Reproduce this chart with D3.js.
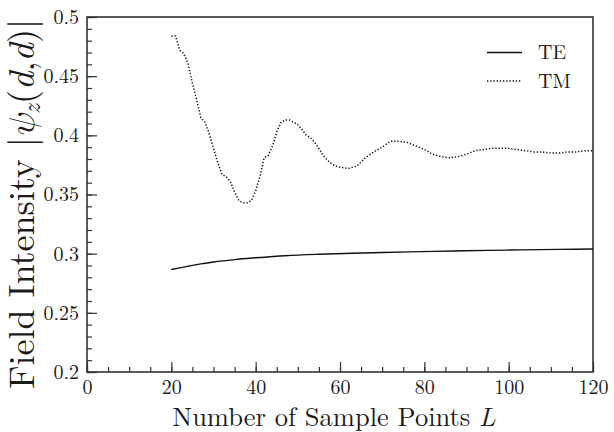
<!DOCTYPE html>
<html>
<head>
<meta charset="utf-8">
<script src="https://cdn.jsdelivr.net/npm/d3@7"></script>
<style>
  body { margin: 0; background: #fff; }
</style>
</head>
<body>
<svg id="chart" width="614" height="432"></svg>
<script>
// values
const teL = [20, 22, 24, 27, 30, 35, 40, 47, 55, 63, 70, 79, 87, 95, 103, 112, 120];
const teVal = [0.2866, 0.2880, 0.2895, 0.2914, 0.2930, 0.2950, 0.2965, 0.2983, 0.2995, 0.3003,
               0.3010, 0.3017, 0.3023, 0.3028, 0.3032, 0.3036, 0.3039];

const tmL = [20, 21, 22, 23, 24, 25, 26, 27, 28, 29, 30, 31, 32, 33, 34, 35, 36, 37, 38, 39,
             40, 41, 42, 43, 44, 45, 46, 47, 48, 49, 50, 51, 52, 53, 54, 55, 56, 57, 58, 59,
             60, 62, 64, 66, 68, 70, 72, 74, 76, 78, 80, 82, 84, 86, 88, 90, 92, 94, 96, 98,
             100, 102, 104, 106, 108, 110, 112, 114, 116, 118, 120];
const tmVal = [0.484, 0.484, 0.472, 0.469, 0.460, 0.444, 0.430, 0.415, 0.411, 0.401,
               0.389, 0.377, 0.367, 0.365, 0.361, 0.352, 0.345, 0.343, 0.343, 0.345,
               0.353, 0.365, 0.381, 0.383, 0.391, 0.403, 0.411, 0.413, 0.413, 0.411,
               0.409, 0.405, 0.400, 0.398, 0.394, 0.389, 0.383, 0.379, 0.376, 0.374,
               0.373, 0.372, 0.374, 0.381, 0.386, 0.390, 0.395, 0.395, 0.394, 0.391,
               0.388, 0.384, 0.382, 0.381, 0.382, 0.384, 0.387, 0.388, 0.389, 0.389,
               0.389, 0.388, 0.387, 0.386, 0.386, 0.385, 0.385, 0.386, 0.386, 0.387, 0.387];

const xTicks = [0, 20, 40, 60, 80, 100, 120];
const yTicks = [0.2, 0.25, 0.3, 0.35, 0.4, 0.45, 0.5];
const seriesNames = ["TE", "TM"];

const plotLeft = 87, plotRight = 593, plotTop = 17, plotBottom = 372;
const FONT = "'Latin Modern Roman', 'Liberation Serif', serif";
const MATH = "'Latin Modern Math', 'Latin Modern Roman', 'Liberation Serif', serif";
const INK = "#1a1a1a";

const svg = d3.select("#chart");

const x = d3.scaleLinear().domain([0, 120]).range([plotLeft, plotRight]);
const y = d3.scaleLinear().domain([0.2, 0.5]).range([plotBottom, plotTop]);

// minor ticks
svg.append("g")
    .attr("transform", "translate(0," + plotBottom + ")")
    .call(d3.axisBottom(x).tickValues(d3.range(0, 121, 5)).tickSize(-5).tickFormat(""))
    .call(g => g.select(".domain").remove());

svg.append("g")
    .attr("transform", "translate(" + plotLeft + ",0)")
    .call(d3.axisLeft(y).tickValues(d3.range(20, 51).map(d => d / 100)).tickSize(-5).tickFormat(""))
    .call(g => g.select(".domain").remove());

// major ticks with labels
const xAxis = svg.append("g")
    .attr("transform", "translate(0," + plotBottom + ")")
    .call(d3.axisBottom(x).tickValues(xTicks).tickSize(-10).tickPadding(8).tickFormat(d => String(d)));
xAxis.select(".domain").remove();

const yAxis = svg.append("g")
    .attr("transform", "translate(" + plotLeft + ",0)")
    .call(d3.axisLeft(y).tickValues(yTicks).tickSize(-10).tickPadding(8).tickFormat(d => String(d)));
yAxis.select(".domain").remove();

[xAxis, yAxis].forEach(a => {
    a.attr("font-family", FONT).attr("font-size", 20);
    a.selectAll("text").attr("font-family", FONT).attr("font-size", 20).attr("fill", INK);
});

svg.selectAll(".tick line").attr("stroke", "#333").attr("stroke-width", 1.2);

// frame
svg.append("rect")
    .attr("x", plotLeft).attr("y", plotTop)
    .attr("width", plotRight - plotLeft).attr("height", plotBottom - plotTop)
    .attr("fill", "none")
    .attr("stroke", "#333")
    .attr("stroke-width", 1.6);

// curves
const teLine = d3.line()
    .curve(d3.curveMonotoneX)
    .x((d, i) => x(teL[i]))
    .y(d => y(d));

const tmLine = d3.line()
    .curve(d3.curveLinear)
    .x((d, i) => x(tmL[i]))
    .y(d => y(d));

svg.append("path")
    .attr("d", teLine(teVal))
    .attr("fill", "none")
    .attr("stroke", "#111")
    .attr("stroke-width", 1.4);

svg.append("path")
    .attr("d", tmLine(tmVal))
    .attr("fill", "none")
    .attr("stroke", "#111")
    .attr("stroke-width", 1.5)
    .attr("stroke-dasharray", "1.3,1.9");

// legend
const legend = svg.append("g").attr("class", "legend");
seriesNames.forEach((name, i) => {
    const ly = 52.5 + i * 28.5;
    legend.append("line")
        .attr("x1", 487).attr("x2", 522)
        .attr("y1", ly).attr("y2", ly)
        .attr("stroke", "#111")
        .attr("stroke-width", i === 0 ? 1.4 : 1.5)
        .attr("stroke-dasharray", i === 0 ? null : "1.3,1.9");
    legend.append("text")
        .attr("x", 538).attr("y", ly + 6.5)
        .attr("font-family", FONT)
        .attr("font-size", 20)
        .attr("fill", INK)
        .text(name);
});

// axis titles
svg.append("text")
    .attr("x", 334).attr("y", 426)
    .attr("text-anchor", "middle")
    .attr("font-family", FONT)
    .attr("font-size", 26.5)
    .attr("fill", INK)
    .call(t => {
        t.append("tspan").text("Number of Sample Points ");
        t.append("tspan").attr("font-style", "italic").text("L");
    });

const yTitle = svg.append("text")
    .attr("transform", "translate(34,204) rotate(-90)")
    .attr("text-anchor", "middle")
    .attr("font-family", FONT)
    .attr("font-size", 36)
    .attr("fill", INK);
yTitle.append("tspan").text("Field Intensity |");
yTitle.append("tspan").attr("font-family", MATH).attr("font-style", "italic").text("ψ");
yTitle.append("tspan").attr("font-style", "italic").attr("font-size", 25).attr("dy", 6).text("z");
yTitle.append("tspan").attr("dy", -6).text("(");
yTitle.append("tspan").attr("font-style", "italic").text("d");
yTitle.append("tspan").text(",");
yTitle.append("tspan").attr("font-style", "italic").text("d");
yTitle.append("tspan").text(")|");
</script>
</body>
</html>
